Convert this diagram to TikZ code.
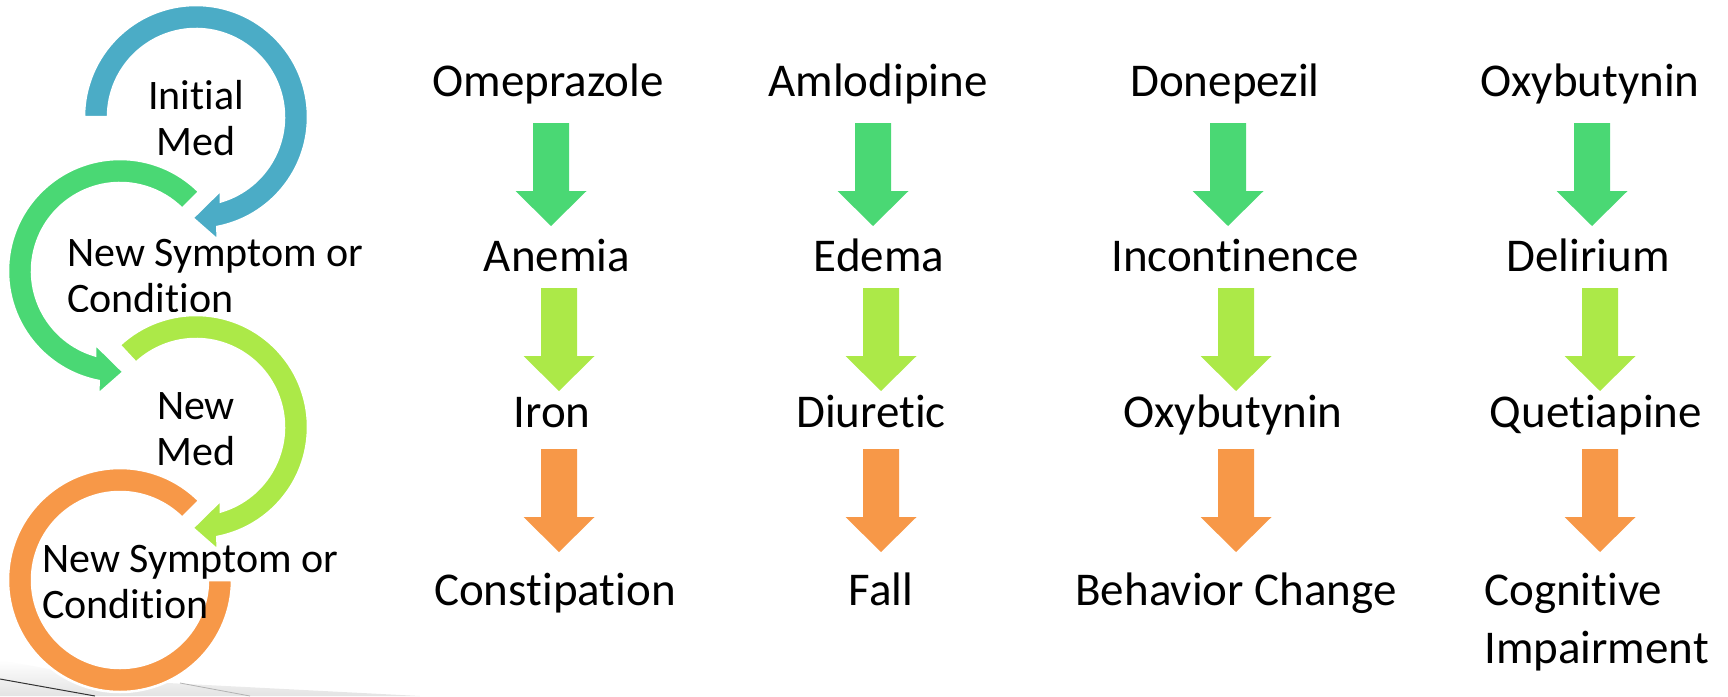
\documentclass[tikz,border=0pt]{standalone}
\usepackage{fontspec}
\setmainfont{Carlito}[Ligatures=NoCommon]
\definecolor{cblue}{HTML}{4BACC6}
\definecolor{cgreen}{HTML}{4AD874}
\definecolor{clime}{HTML}{ACE948}
\definecolor{corange}{HTML}{F79848}
\newcommand{\circarrow}[1]{%
  (#1:112) arc[start angle=#1, end angle=-79, radius=112]
  -- (-80:125) -- (-92:101) -- (-71:77) -- (-73.6:88)
  arc[start angle=-73.6, end angle=#1, radius=88] -- cycle}
\newcommand{\blockarrow}[3]{%
  \fill[#1] (#2-18,#3) -- (#2+18,#3) -- (#2+18,#3+68) -- (#2+35.5,#3+68)
    -- (#2,#3+103) -- (#2-35.5,#3+68) -- (#2-18,#3+68) -- cycle;}
\begin{document}
\begin{tikzpicture}[x=1pt,y=-1pt,
  ring/.style={draw=white, line width=2.5pt, line join=miter},
  lbl/.style={inner sep=0pt, font=\fontsize{47}{56}\selectfont, anchor=base},
  cyc/.style={inner sep=0pt, font=\fontsize{42}{46}\selectfont, anchor=base}]
\useasboundingbox (0,0) rectangle (1728,696);
% bottom artifacts
\shade[top color=white, bottom color=gray!22] (0,660) -- (110,680) -- (420,696) -- (0,696) -- cycle;
\draw[gray!40!black, line width=1pt] (0,679) -- (95,696);
\draw[gray!60, line width=0.8pt] (180,683) -- (250,696);
% circular arrows
\begin{scope}[shift={(196,117)}, y=1pt]
  \filldraw[cblue, ring] \circarrow{180};
\end{scope}
\begin{scope}[shift={(120,271)}, y=1pt, xscale=-1]
  \filldraw[cgreen, ring] \circarrow{135};
\end{scope}
\begin{scope}[shift={(196,427)}, y=1pt]
  \filldraw[clime, ring] \circarrow{133};
\end{scope}
\begin{scope}[shift={(120,580)}, y=1pt]
  \filldraw[corange, ring] (45:112) arc[start angle=45, end angle=360, radius=112]
    -- (0:88) arc[start angle=360, end angle=45, radius=88] -- cycle;
\end{scope}
% cycle texts (base anchor = baseline of the last line)
\node[cyc, align=center] (c1) at (196,155) {Initial\\Med};
\begin{scope}
  \clip (0,0) rectangle (420,311);
  \node[cyc, align=left, anchor=base west] (c2) at (67,312) {New Symptom or\\Condition};
\end{scope}
\node[cyc, align=center] (c3) at (196,465) {New\\Med};
\node[cyc, align=left, anchor=base west] (c4) at (42,618) {New Symptom or\\Condition};
% block arrows
\foreach \x/\c in {551/cgreen, 873/cgreen, 1228/cgreen, 1592/cgreen}{\blockarrow{\c}{\x}{123}}
\foreach \x/\c in {559/clime, 881/clime, 1236/clime, 1600/clime}{\blockarrow{\c}{\x}{288}}
\foreach \x/\c in {559/corange, 881/corange, 1236/corange, 1600/corange}{\blockarrow{\c}{\x}{449}}
% column texts
\node[lbl] (a1) at (548,96) {Omeprazole};
\node[lbl] (a2) at (557,271) {Anemia};
\node[lbl] (a3) at (552,427) {Iron};
\node[lbl] (a4) at (555,605) {Constipation};
\node[lbl] (b1) at (878,96) {Amlodipine};
\node[lbl] (b2) at (879,271) {Edema};
\node[lbl] (b3) at (871,427) {Diuretic};
\node[lbl] (b4) at (881,605) {Fall};
\node[lbl] (d1) at (1225,96) {Donepezil};
\node[lbl] (d2) at (1235,271) {Incontinence};
\node[lbl] (d3) at (1233,427) {Oxybutynin};
\node[lbl] (d4) at (1236,605) {Behavior Change};
\node[lbl] (e1) at (1590,96) {Oxybutynin};
\node[lbl] (e2) at (1588,271) {Delirium};
\node[lbl] (e3) at (1596,427) {Quetiapine};
\node[lbl, align=left, anchor=base west, font=\fontsize{47}{58}\selectfont] (e4) at (1484,663) {Cognitive\\Impairment};
\end{tikzpicture}
\end{document}
